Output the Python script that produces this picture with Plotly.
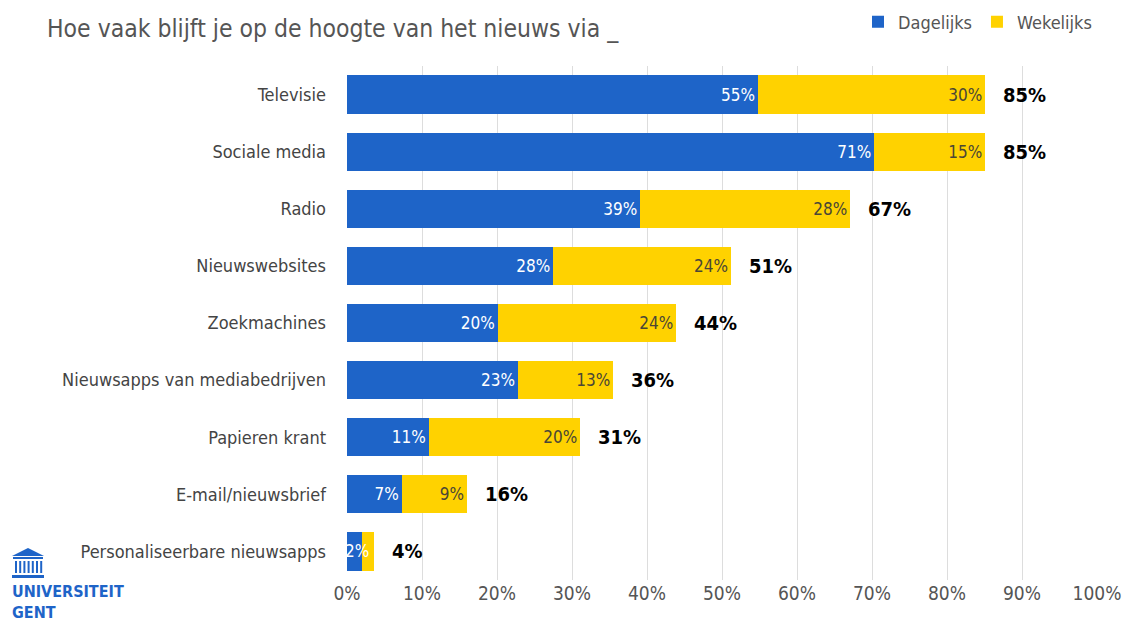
import plotly.graph_objects as go

categories = ["Televisie", "Sociale media", "Radio", "Nieuwswebsites", "Zoekmachines",
              "Nieuwsapps van mediabedrijven", "Papieren krant", "E-mail/nieuwsbrief",
              "Personaliseerbare nieuwsapps"]
daily = [54.8, 70.3, 39.1, 27.5, 20.1, 22.8, 10.9, 7.3, 2.0]
weekly = [30.3, 14.8, 28.0, 23.7, 23.8, 12.7, 20.2, 8.7, 1.6]
daily_labels = ["55%", "71%", "39%", "28%", "20%", "23%", "11%", "7%", "2%"]
weekly_labels = ["30%", "15%", "28%", "24%", "24%", "13%", "20%", "9%", ""]
total_labels = ["85%", "85%", "67%", "51%", "44%", "36%", "31%", "16%", "4%"]
x_ticks = [0, 10, 20, 30, 40, 50, 60, 70, 80, 90, 100]
x_ticktext = [f"{v}%" for v in x_ticks]

BLUE = "#1E64C8"
YELLOW = "#FFD200"
FONT = "DejaVu Sans Condensed, DejaVu Sans, sans-serif"

W, H = 1123, 621
ML, MR, MT, MB = 347, 26, 66, 41
PW, PH = W - ML - MR, H - MT - MB


def px(x):
    return (x - ML) / PW


def py(y):
    return (H - MB - y) / PH


# labels on very short bars are drawn as annotations so they may overflow
bar_daily_text = [t if d >= 4 else "" for d, t in zip(daily, daily_labels)]

fig = go.Figure()
fig.add_trace(go.Bar(
    y=categories, x=daily, orientation="h", name="Dagelijks",
    marker=dict(color=BLUE, line=dict(width=0)),
    text=bar_daily_text, textposition="inside", insidetextanchor="end", textangle=0,
    constraintext="none", textfont=dict(color="white", size=17, family=FONT),
    cliponaxis=False,
))
fig.add_trace(go.Bar(
    y=categories, x=weekly, orientation="h", name="Wekelijks",
    marker=dict(color=YELLOW, line=dict(width=0)),
    text=weekly_labels, textposition="inside", insidetextanchor="end", textangle=0,
    constraintext="none", textfont=dict(color="#4a4636", size=17, family=FONT),
    cliponaxis=False,
))

annotations = []
for c, d, w, t, dl in zip(categories, daily, weekly, total_labels, daily_labels):
    annotations.append(dict(x=d + w, y=c, xref="x", yref="y", text=f"<b>{t}</b>",
                            showarrow=False, xanchor="left", xshift=16,
                            font=dict(size=20, color="black", family=FONT)))
    if d < 4:
        annotations.append(dict(x=0, y=c, xref="x", yref="y", text=dl,
                                showarrow=False, xanchor="left", xshift=-4,
                                font=dict(size=17, color="white", family=FONT)))

# Title
annotations.append(dict(x=px(45), y=py(28), xref="paper", yref="paper",
                        text="Hoe vaak blijft je op de hoogte van het nieuws via _",
                        showarrow=False, xanchor="left", yanchor="middle",
                        font=dict(size=24.5, color="#555555", family=FONT)))
# Logo text
annotations.append(dict(x=px(10), y=py(602), xref="paper", yref="paper",
                        text="<b>UNIVERSITEIT<br>GENT</b>", align="left",
                        showarrow=False, xanchor="left", yanchor="middle",
                        font=dict(size=16, color=BLUE, family=FONT)))

shapes = []
# Logo building icon
shapes.append(dict(type="path", xref="paper", yref="paper",
                   path=f"M {px(12)} {py(556)} L {px(28)} {py(548)} L {px(44)} {py(556)} Z",
                   fillcolor=BLUE, line=dict(width=0)))
shapes.append(dict(type="rect", xref="paper", yref="paper",
                   x0=px(13), x1=px(43), y0=py(559), y1=py(557),
                   fillcolor=BLUE, line=dict(width=0)))
for i in range(7):
    cx = 15 + i * 4.2
    shapes.append(dict(type="rect", xref="paper", yref="paper",
                       x0=px(cx), x1=px(cx + 2), y0=py(573), y1=py(561),
                       fillcolor=BLUE, line=dict(width=0)))
shapes.append(dict(type="rect", xref="paper", yref="paper",
                   x0=px(12), x1=px(44), y0=py(578), y1=py(575),
                   fillcolor=BLUE, line=dict(width=0)))

fig.update_layout(
    width=W, height=H,
    margin=dict(l=ML, r=MR, t=MT, b=MB, autoexpand=False),
    barmode="stack", bargap=0.33,
    plot_bgcolor="white", paper_bgcolor="white",
    font=dict(family=FONT, color="#555555"),
    showlegend=True,
    legend=dict(orientation="h", x=1.0, xanchor="right", y=py(22), yanchor="middle",
                font=dict(size=18, color="#555555", family=FONT),
                itemwidth=30, traceorder="normal"),
    xaxis=dict(range=[0, 100], tickvals=x_ticks, ticktext=x_ticktext,
               showgrid=True, gridcolor="#dddddd", gridwidth=1, zeroline=False,
               showline=False, ticks="", tickfont=dict(size=19, color="#555555", family=FONT),
               fixedrange=True),
    yaxis=dict(autorange="reversed", showgrid=False, showline=False, ticks="",
               ticklabelstandoff=20,
               tickfont=dict(size=18, color="#444444", family=FONT)),
    annotations=annotations, shapes=shapes,
)

fig.write_html("out.html")
